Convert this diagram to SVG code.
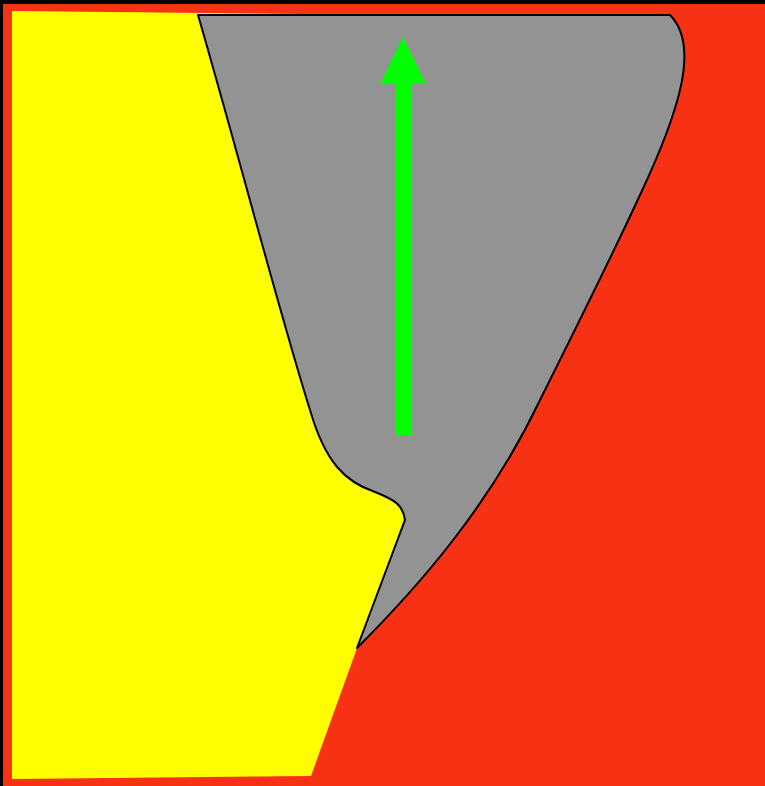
<svg xmlns="http://www.w3.org/2000/svg" width="765" height="786" viewBox="0 0 765 786">
<rect x="0" y="0" width="765" height="786" fill="#000"/>
<rect x="3" y="4" width="762" height="782" fill="#f73214"/>
<polygon points="12,11 390,15 404,520 357,648 311,776 12,779" fill="#ffff00"/>
<path d="M198,15 L670,15 C700,45 680,110 640,195 C610,260 575,330 540,400 C490,505 420,585 357,648 L405,520 C403,505 395,500 375,492 C345,482 325,462 310,410 C280,315 240,160 198,15 Z" fill="#939393" stroke="#000" stroke-width="2" stroke-linejoin="round"/>
<rect x="395" y="80" width="16" height="355" fill="#00ff00"/>
<polygon points="403,37 426,84 380,84" fill="#00ff00"/>
</svg>
